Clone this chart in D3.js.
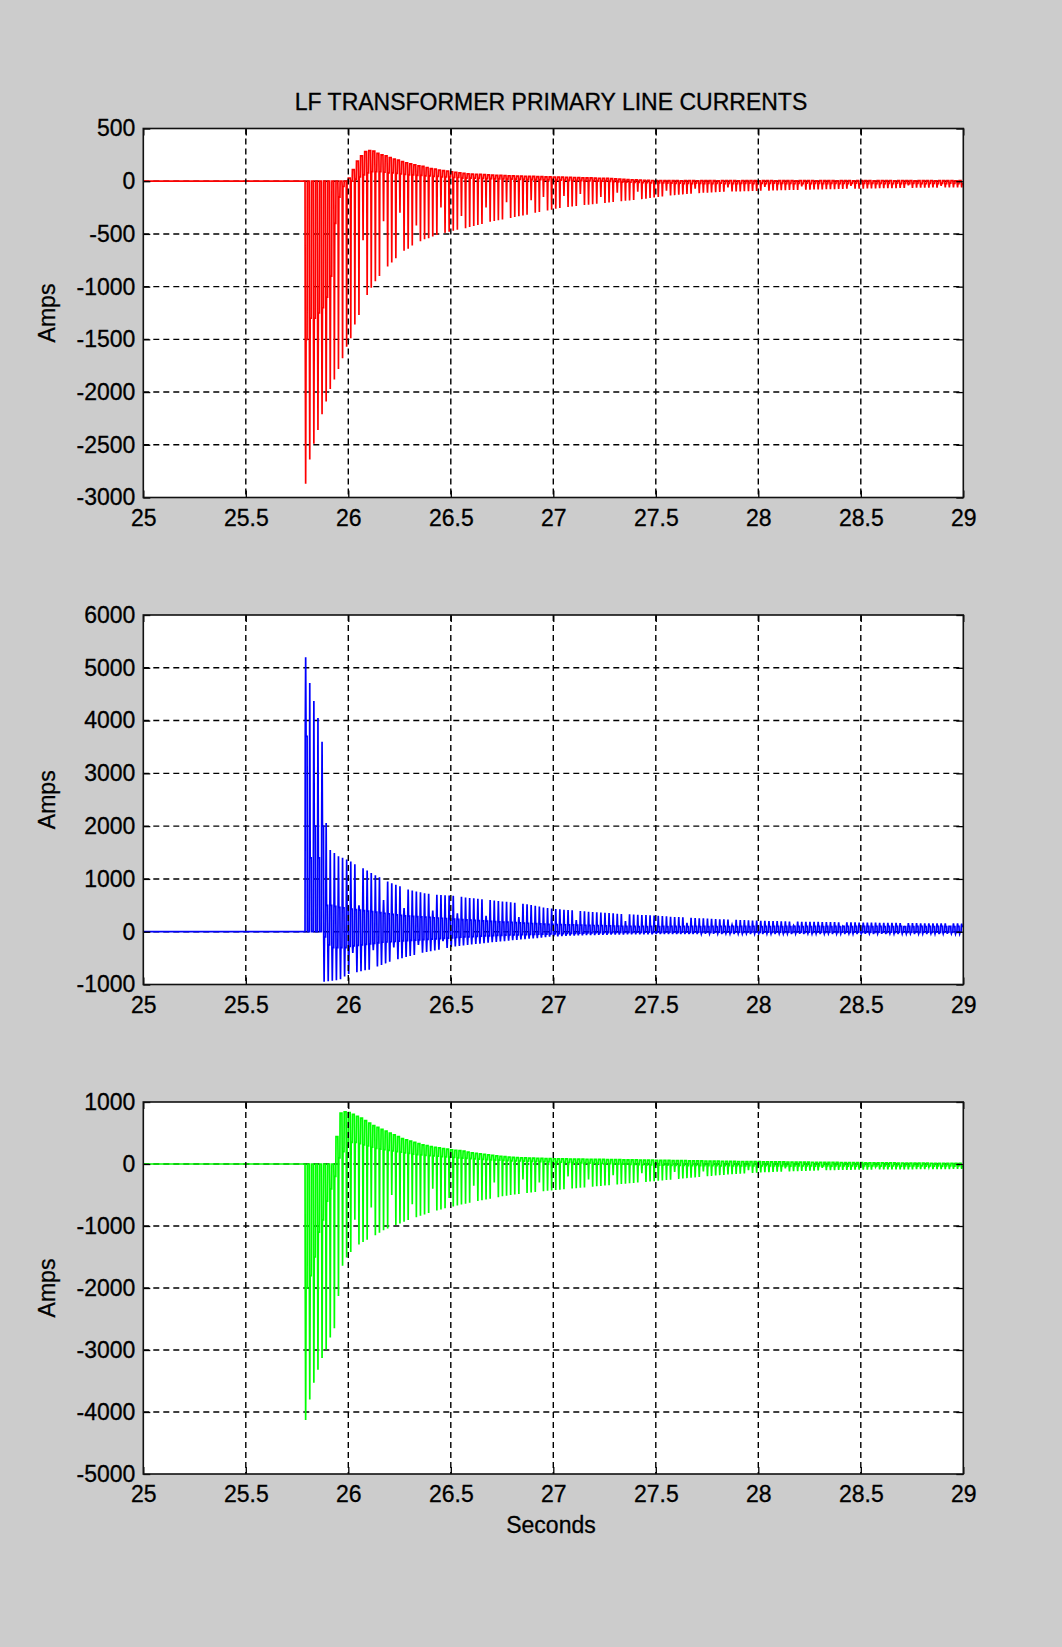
<!DOCTYPE html>
<html>
<head>
<meta charset="utf-8">
<script src="https://cdn.jsdelivr.net/npm/d3@7/dist/d3.min.js"></script>
<style>
body { margin: 0; background: #cccccc; }
svg text { font-family: 'Liberation Sans', Arial, sans-serif; fill: #000; }
</style>
</head>
<body>
<div id="plot"></div>
<script>
// tick labels
var xTicks = [25, 25.5, 26, 26.5, 27, 27.5, 28, 28.5, 29];
var redTicks = [-3000, -2500, -2000, -1500, -1000, -500, 0, 500];
var blueTicks = [-1000, 0, 1000, 2000, 3000, 4000, 5000, 6000];
var greenTicks = [-5000, -4000, -3000, -2000, -1000, 0, 1000];

// the inrush starts at 25.78 s, one current pulse per cycle (0.02 s)
var cycleStart = 25.78;
var cyclePeriod = 0.02;

// red phase, per cycle: level before the pulse, level after it, pulse tip (A)
var redTop = [0,0,0,0,0,0,0,0,0,0,
  0,30,110,190,240,280,290,285,265,250,
  240,225,210,200,185,175,165,155,145,140,
  130,120,115,105,100,95,90,85,80,75,
  70,68,66,64,62,60,58,56,55,54,
  52,50,49,48,47,46,45,44,43,42,
  41,40,40,38,37,36,35,34,33,32,
  31,30,28,27,26,24,22,20,18,16,
  14,12,10,9,8,7,6,6,5,5,
  5,5,4,5,6,5,4,5,5,6,
  5,4,5,5,6,5,4,5,5,6,
  5,4,5,6,5,4,5,5,6,5,
  4,5,5,6,5,4,5,5,6,5,
  4,5,6,5,4,5,5,6,5,4,
  5,5,6,5,4,5,5,6,5,4,
  5,5,6,5,4,5,5,6,5,4,5];
var redRest = [-1500,-1300,-1300,-1250,-1200,-1100,-900,-400,-150,-50,
  0,0,20,40,60,80,90,90,90,85,
  80,80,75,70,65,60,60,55,55,50,
  50,45,45,40,40,40,35,35,30,30,
  30,28,27,26,25,24,23,22,21,20,
  20,19,18,17,16,15,15,14,13,12,
  12,11,10,9,8,7,6,5,4,3,
  2,1,0,0,-2,-4,-6,-8,-10,-10,
  -12,-12,-14,-14,-15,-16,-16,-17,-18,-18,
  -20,-18,-22,-20,-24,-19,-21,-23,-20,-22,
  -21,-19,-23,-20,-22,-24,-20,-21,-19,-23,
  -22,-20,-24,-21,-19,-23,-20,-22,-21,-24,
  -20,-22,-19,-23,-21,-20,-24,-22,-20,-21,
  -23,-20,-22,-21,-19,-24,-20,-22,-21,-23,
  -20,-22,-21,-24,-19,-23,-20,-22,-21,-20,
  -22,-24,-20,-21,-23,-20,-22,-19,-21,-23,-22];
var redSpike = [-2870,-2640,-2490,-2360,-2210,-2090,-1970,-1880,-1780,-1680,
  -1570,-1490,-1360,-1270,-560,-1080,-1010,-950,-900,-380,
  -810,-770,-730,-300,-660,-640,-610,-420,-570,-550,
  -540,-525,-510,-250,-490,-480,-470,-460,-330,-445,
  -435,-425,-415,-405,-250,-385,-378,-370,-362,-200,
  -348,-340,-333,-325,-318,-180,-300,-292,-150,-278,
  -270,-262,-255,-140,-245,-240,-235,-120,-226,-222,
  -218,-214,-150,-206,-202,-198,-110,-190,-186,-182,
  -178,-100,-170,-166,-160,-155,-150,-145,-90,-136,
  -132,-128,-125,-122,-119,-70,-113,-110,-108,-106,
  -104,-102,-100,-60,-98,-97,-96,-95,-94,-93,
  -92,-91,-55,-89,-88,-87,-86,-85,-84,-83,
  -82,-50,-80,-80,-79,-78,-77,-76,-75,-75,
  -74,-73,-72,-45,-71,-70,-70,-69,-68,-68,
  -67,-66,-66,-65,-65,-64,-64,-40,-63,-62,
  -62,-61,-61,-60,-60,-45,-59,-59,-58,-58,-58];

// blue phase (B): low band, dip, high band, peak
var blueLow = [0,0,0,0,0,-100,-250,-300,-300,-300,
  -300,-280,-270,-260,-250,-240,-230,-220,-210,-200,
  -195,-190,-185,-180,-175,-170,-165,-160,-155,-150,
  -145,-140,-135,-130,-125,-120,-115,-110,-105,-100,
  -96,-92,-88,-84,-80,-77,-74,-71,-68,-65,
  -62,-60,-58,-56,-54,-52,-50,-48,-46,-44,
  -42,-40,-38,-36,-34,-32,-30,-28,-26,-24,
  -22,-20,-19,-18,-17,-16,-15,-14,-13,-12,
  -11,-10,-12,-9,-10,-11,-10,-12,-9,-10,
  -10,-11,-9,-10,-12,-10,-9,-11,-10,-12,
  -9,-10,-11,-10,-12,-9,-10,-11,-10,-9,
  -10,-12,-9,-10,-11,-10,-9,-12,-10,-11,
  -10,-9,-11,-10,-12,-10,-9,-11,-10,-10,
  -12,-10,-9,-11,-10,-10,-12,-9,-10,-11,
  -10,-9,-11,-10,-12,-10,-9,-11,-10,-10,
  -11,-10,-9,-12,-10,-11,-10,-9,-10,-12,-10];
var blueDip = [0,0,0,0,0,-950,-940,-930,-920,-900,
  -850,-800,-400,-770,-750,-730,-720,-350,-660,-630,
  -600,-570,-300,-520,-500,-480,-460,-440,-250,-400,
  -385,-370,-355,-340,-180,-310,-290,-280,-270,-260,
  -250,-242,-234,-226,-218,-210,-200,-192,-186,-180,
  -170,-162,-155,-148,-140,-133,-126,-120,-112,-105,
  -95,-90,-86,-82,-78,-75,-72,-70,-68,-66,
  -64,-62,-60,-58,-57,-56,-55,-54,-53,-52,
  -51,-50,-50,-49,-48,-48,-47,-46,-46,-45,
  -45,-44,-44,-43,-43,-42,-42,-41,-41,-40,
  -40,-38,-42,-36,-40,-44,-38,-40,-35,-42,
  -40,-36,-42,-38,-40,-44,-36,-40,-38,-42,
  -38,-40,-44,-36,-40,-38,-42,-40,-36,-44,
  -40,-38,-42,-36,-40,-44,-38,-40,-36,-42,
  -38,-40,-42,-36,-40,-44,-38,-40,-36,-42,
  -40,-38,-42,-36,-40,-44,-38,-40,-36,-42,-40];
var blueHigh = [3700,1400,2000,1400,2000,500,500,480,460,450,
  440,430,420,410,400,390,380,370,360,350,
  340,330,320,310,300,295,290,285,280,275,
  270,265,260,255,250,245,240,235,230,225,
  220,215,210,205,200,196,192,188,184,180,
  176,172,168,164,160,156,152,148,144,140,
  138,136,134,132,130,128,126,124,122,120,
  118,116,114,112,110,108,106,104,102,100,
  100,98,102,96,100,104,98,100,95,102,
  100,96,102,98,100,104,96,100,98,102,
  98,100,104,96,100,98,102,100,96,104,
  100,98,102,96,100,104,98,100,95,102,
  100,96,102,98,100,104,96,100,98,102,
  98,100,104,96,100,98,102,100,96,104,
  100,98,102,96,100,104,98,100,95,102,
  100,96,102,98,100,104,96,100,98,102,100];
var bluePeak = [5200,4710,4370,4050,3600,2060,1550,1490,1430,1400,
  1370,1330,1280,500,1200,1160,1110,1070,1030,600,
  950,920,890,860,450,800,780,760,745,730,
  720,400,700,695,690,685,680,350,660,650,
  640,632,624,616,300,600,590,580,570,565,
  560,550,280,530,520,505,490,475,460,450,
  440,432,425,418,412,405,220,392,386,380,
  374,368,362,357,352,347,342,337,200,330,
  326,322,318,314,310,305,300,295,290,285,
  280,276,272,170,264,260,256,252,248,244,
  240,237,234,231,130,225,222,219,216,213,
  210,208,206,204,202,200,198,196,194,120,
  190,189,188,187,186,185,184,183,182,181,
  180,110,178,177,176,175,174,173,172,171,
  170,169,168,167,166,165,100,163,162,161,
  160,160,159,159,158,158,157,100,156,156,155];

// green phase (C): level before the pulse, level after it, pulse tip
var greenTop = [0,0,0,0,0,0,0,0,440,820,
  840,830,800,770,740,700,660,620,590,560,
  530,500,470,440,410,390,370,350,330,310,
  295,280,270,260,250,240,230,222,215,208,
  190,180,172,164,156,148,140,132,125,118,
  112,108,104,101,98,96,94,92,90,88,
  86,85,84,83,82,81,80,79,78,77,
  76,75,74,73,72,71,70,69,68,67,
  66,65,64,63,62,61,60,59,58,57,
  56,55,54,53,52,51,50,49,48,47,
  46,45,44,43,42,41,40,40,39,38,
  38,37,36,36,35,34,34,33,32,32,
  31,30,30,29,28,28,27,26,26,25,
  25,24,23,23,22,22,21,20,20,19,
  19,18,18,17,17,16,16,15,15,14,
  14,13,13,12,12,11,11,10,10,10,10];
var greenRest = [-2000,-1800,-1500,-1100,-900,-600,-400,-200,100,200,
  300,350,350,330,310,290,270,250,240,230,
  220,210,200,190,180,170,160,150,145,140,
  135,130,125,120,115,110,105,100,95,90,
  86,82,78,74,70,67,64,61,58,55,
  52,50,48,46,44,42,40,38,36,34,
  32,30,28,26,24,22,20,18,16,14,
  12,10,8,6,4,2,0,-2,-4,-6,
  -8,-10,-12,-14,-15,-16,-18,-19,-20,-21,
  -22,-24,-23,-25,-26,-24,-27,-25,-28,-26,
  -27,-29,-26,-28,-30,-27,-29,-31,-28,-30,
  -29,-31,-28,-30,-32,-29,-31,-30,-33,-30,
  -31,-29,-32,-30,-33,-31,-30,-32,-34,-31,
  -32,-30,-33,-31,-34,-32,-31,-33,-30,-32,
  -33,-31,-34,-32,-30,-33,-31,-34,-32,-33,
  -31,-34,-32,-33,-30,-34,-32,-31,-33,-32,-34];
var greenSpike = [-4130,-3800,-3530,-3320,-3130,-2990,-2800,-2650,-2130,-1640,
  -1510,-1420,-900,-1300,-1260,-1220,-700,-1150,-1110,-1070,
  -1040,-500,-985,-960,-930,-905,-650,-860,-835,-815,
  -790,-400,-750,-735,-715,-550,-685,-670,-655,-640,
  -625,-350,-598,-585,-572,-560,-300,-535,-522,-510,
  -500,-492,-484,-250,-468,-460,-452,-300,-438,-432,
  -426,-420,-414,-408,-200,-396,-390,-384,-378,-250,
  -366,-360,-354,-348,-342,-180,-330,-324,-318,-312,
  -306,-300,-150,-288,-282,-276,-270,-264,-258,-252,
  -130,-240,-234,-228,-222,-216,-210,-120,-198,-192,
  -186,-180,-175,-170,-165,-160,-156,-152,-100,-144,
  -140,-137,-134,-131,-128,-125,-122,-70,-118,-116,
  -114,-112,-110,-108,-106,-104,-60,-100,-99,-98,
  -97,-96,-95,-94,-93,-92,-91,-90,-90,-50,
  -89,-88,-88,-87,-87,-86,-86,-85,-85,-84,
  -84,-83,-55,-82,-82,-82,-81,-81,-80,-80,-80];

var lf = {};

lf.W = 1062;
lf.H = 1647;
lf.left = 143.3;
lf.width = 820;
lf.font = 23;

// one cycle: dwell on level a (with an optional dip), step to level b, pulse, dwell on b
lf.wave = function(a, b, pulse, dip) {

  var T = cyclePeriod;
  var pts = [[25, 0]];

  for ( var k = 0; k < pulse.length; k++ ) {
    var t = cycleStart + k*T;
    pts.push([t, a[k]]);
    if ( dip ) {
      pts.push([t + 0.1*T, dip[k]]);
      pts.push([t + 0.2*T, a[k]]);
    }
    pts.push([t + 0.45*T, a[k]]);
    pts.push([t + 0.5*T, b[k]]);
    pts.push([t + 0.6*T, pulse[k]]);
    pts.push([t + 0.7*T, b[k]]);
    pts.push([t + 0.95*T, b[k]]);
  }
  pts.push([29, b[b.length-1]]);
  return pts;

};

lf.panels = [
  { top: 128.5, height: 369, ticks: redTicks, color: '#ff0000',
    pts: lf.wave(redTop, redRest, redSpike) },
  { top: 615, height: 369.5, ticks: blueTicks, color: '#0000ff',
    pts: lf.wave(blueLow, blueHigh, bluePeak, blueDip) },
  { top: 1102, height: 372, ticks: greenTicks, color: '#00ff00',
    pts: lf.wave(greenTop, greenRest, greenSpike) }
];

lf.grid_style = function(sel) {
  sel.attr('stroke', '#000')
    .attr('stroke-width', 1.4)
    .attr('stroke-dasharray', '6,4');
};

lf.draw_panel = function(svg, p, i) {

  var x = d3.scaleLinear().domain([25, 29]).range([0, lf.width]);
  var y = d3.scaleLinear().domain(d3.extent(p.ticks)).range([p.height, 0]);

  var g = svg.append('g')
    .attr('transform', 'translate(' + lf.left + ',' + p.top + ')');

  g.append('rect')
    .attr('width', lf.width)
    .attr('height', p.height)
    .attr('fill', '#fff');

  g.append('clipPath').attr('id', 'clip' + i)
    .append('rect').attr('width', lf.width).attr('height', p.height);

  var line = d3.line()
    .x(function(d) { return x(d[0]); })
    .y(function(d) { return y(d[1]); });

  // horizontal grid under the trace, vertical grid over it
  var gy = g.append('g').call(lf.grid_style);
  gy.selectAll('line').data(p.ticks.slice(1, -1)).enter()
    .append('line')
    .attr('y1', function(d) { return y(d); })
    .attr('y2', function(d) { return y(d); })
    .attr('x1', 0).attr('x2', lf.width);

  g.append('path')
    .datum(p.pts)
    .attr('clip-path', 'url(#clip' + i + ')')
    .attr('fill', 'none')
    .attr('stroke', p.color)
    .attr('stroke-width', 1.7)
    .attr('d', line);

  var gx = g.append('g').call(lf.grid_style);
  gx.selectAll('line').data(xTicks.slice(1, -1)).enter()
    .append('line')
    .attr('x1', function(d) { return x(d); })
    .attr('x2', function(d) { return x(d); })
    .attr('y1', 0).attr('y2', p.height);

  var fmt = function(d) { return String(d); };

  var yl = g.append('g')
    .call(d3.axisLeft(y).tickValues(p.ticks).tickFormat(fmt)
      .tickSizeInner(-7).tickSizeOuter(0).tickPadding(8));
  var yr = g.append('g')
    .attr('transform', 'translate(' + lf.width + ',0)')
    .call(d3.axisRight(y).tickValues(p.ticks).tickFormat('')
      .tickSizeInner(-7).tickSizeOuter(0));
  var xb = g.append('g')
    .attr('transform', 'translate(0,' + p.height + ')')
    .call(d3.axisBottom(x).tickValues(xTicks).tickFormat(fmt)
      .tickSizeInner(-7).tickSizeOuter(0).tickPadding(12));
  var xt = g.append('g')
    .call(d3.axisTop(x).tickValues(xTicks).tickFormat('')
      .tickSizeInner(-7).tickSizeOuter(0));

  [yl, yr, xb, xt].forEach(function(a) {
    a.select('.domain').remove();
    a.selectAll('line').attr('stroke', '#000').attr('stroke-width', 1.3);
    a.selectAll('text')
      .attr('font-size', lf.font)
      .attr('font-family', "'Liberation Sans', Arial, sans-serif")
      .attr('fill', '#000')
      .attr('stroke', '#000')
      .attr('stroke-width', 0.3);
  });

  g.append('rect')
    .attr('width', lf.width)
    .attr('height', p.height)
    .attr('fill', 'none')
    .attr('stroke', '#111')
    .attr('stroke-width', 1.6);

  svg.append('text')
    .attr('transform', 'translate(55,' + (p.top + p.height/2) + ') rotate(-90)')
    .attr('text-anchor', 'middle')
    .attr('font-size', lf.font)
    .attr('stroke', '#000')
    .attr('stroke-width', 0.3)
    .text('Amps');

};

lf.init = function() {

  var svg = d3.select('#plot').append('svg')
    .attr('width', lf.W)
    .attr('height', lf.H);

  svg.append('rect')
    .attr('width', lf.W)
    .attr('height', lf.H)
    .attr('fill', '#cccccc');

  lf.panels.forEach(function(p, i) { lf.draw_panel(svg, p, i); });

  svg.append('text')
    .attr('x', 551)
    .attr('y', 110)
    .attr('text-anchor', 'middle')
    .attr('font-size', lf.font)
    .attr('stroke', '#000')
    .attr('stroke-width', 0.3)
    .text('LF TRANSFORMER PRIMARY LINE CURRENTS');

  svg.append('text')
    .attr('x', 551)
    .attr('y', 1533)
    .attr('text-anchor', 'middle')
    .attr('font-size', lf.font)
    .attr('stroke', '#000')
    .attr('stroke-width', 0.3)
    .text('Seconds');

};

lf.init();
</script>
</body>
</html>
